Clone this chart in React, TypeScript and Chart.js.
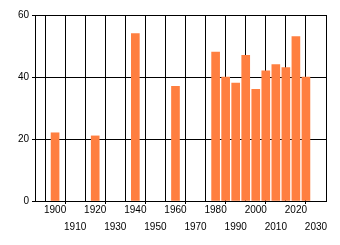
import React, { useEffect, useRef } from "react";
import { Chart, registerables } from "chart.js";

Chart.register(...registerables);

const years = [1900, 1920, 1940, 1960, 1980, 1985, 1990, 1995, 2000, 2005, 2010, 2015, 2020, 2025];
const values = [22, 21, 54, 37, 48, 40, 38, 47, 36, 42, 44, 43, 53, 40];
const yTicks = [0, 20, 40, 60];

export default function App() {
  const ref = useRef<HTMLCanvasElement | null>(null);
  useEffect(() => {
    document.body.style.margin = "0";
    const ctx = ref.current!;
    const chart = new Chart(ctx, {
      type: "bar",
      data: {
        datasets: [
          {
            data: years.map((y, i) => ({ x: y, y: values[i] })),
            backgroundColor: "#ff7f40",
            borderWidth: 0,
            barThickness: 8,
          },
        ],
      },
      options: {
        animation: false,
        responsive: false,
        layout: { padding: { left: 0, top: 15, right: 14, bottom: 0 } },
        plugins: { legend: { display: false }, tooltip: { enabled: false } },
        scales: {
          x: {
            type: "linear",
            min: 1890,
            max: 2035,
            offset: false,
            grid: {
              color: "#000",
              lineWidth: 1,
              tickLength: 3,
              tickColor: (c: any) => {
                const v = c.tick ? c.tick.value : 0;
                return ((v - 1900) / 10) % 2 !== 0 ? "#000" : "rgba(0,0,0,0)";
              },
            },
            border: { color: "#000" },
            ticks: {
              stepSize: 10,
              includeBounds: false,
              autoSkip: false,
              maxRotation: 0,
              padding: -3,
              color: "#000",
              font: { family: "Liberation Sans, Arial", size: 10, lineHeight: 1.75 },
              callback: (v: any) => {
                const n = Number(v);
                if (n === 1890) return "";
                return ((n - 1900) / 10) % 2 === 0 ? [String(n), ""] : ["", String(n)];
              },
            },
            afterFit: (s: any) => {
              s.height = 44;
            },
          },
          y: {
            min: 0,
            max: 60,
            grid: { color: "#000", lineWidth: 1, tickLength: 3 },
            border: { color: "#000" },
            afterBuildTicks: (s: any) => {
              s.ticks = yTicks.map((v) => ({ value: v }));
            },
            ticks: {
              padding: 3,
              color: "#000",
              font: { family: "Liberation Sans, Arial", size: 10 },
            },
            afterFit: (s: any) => {
              s.width = 35;
            },
          },
        },
      },
    });
    return () => chart.destroy();
  }, []);
  return (
    <div style={{ width: 340, height: 245, background: "#fff" }}>
      <canvas ref={ref} width={340} height={245} style={{ display: "block" }} />
    </div>
  );
}
